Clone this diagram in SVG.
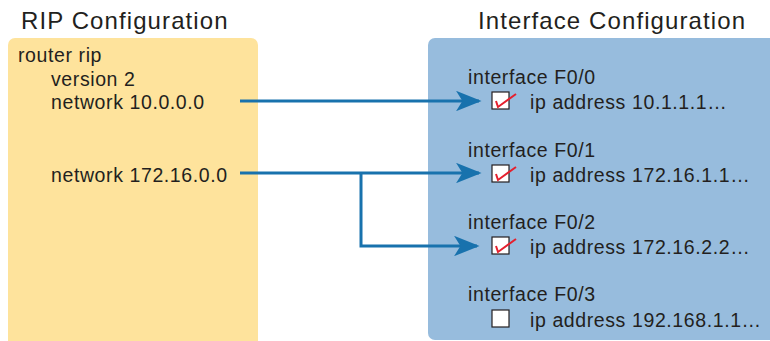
<svg xmlns="http://www.w3.org/2000/svg" width="770" height="341" viewBox="0 0 770 341">
<defs>
<style>
.t{font-family:"Liberation Sans",Arial,sans-serif;fill:#231f20}
.h{font-size:24px;letter-spacing:1.1px}
.s{font-size:19.5px;letter-spacing:0.6px}
.c{stroke:#1872ad;stroke-width:3;fill:none}
.cb{fill:#fff;stroke:#231f20;stroke-width:1.2}
.ck{stroke:#e5202e;stroke-width:2;fill:none}
</style>
<marker id="ah" viewBox="0 0 10 8" refX="9" refY="4" markerWidth="8.5" markerHeight="6.8" markerUnits="strokeWidth" orient="auto">
<path d="M0,0 L10,4 L0,8 L2.5,4 Z" fill="#1872ad"/>
</marker>
</defs>
<text class="t h" x="21" y="29">RIP Configuration</text>
<text class="t h" x="478" y="29">Interface Configuration</text>
<g id="rip">
<rect x="8" y="38" width="250" height="310" rx="7" fill="#fee39c"/>
<text class="t s" x="18" y="62">router rip</text>
<text class="t s" x="51" y="86">version 2</text>
<text class="t s" x="51" y="109">network 10.0.0.0</text>
<text class="t s" x="51" y="182">network 172.16.0.0</text>
</g>
<g id="iface">
<rect x="428" y="38" width="360" height="302" rx="7" fill="#97bcdd"/>
<text class="t s" x="468" y="84">interface F0/0</text>
<rect class="cb" x="492" y="92" width="17" height="17"/>
<path class="ck" d="M496,101 L498,107 L516,94"/>
<text class="t s" x="530" y="109">ip address 10.1.1.1…</text>
<text class="t s" x="468" y="157">interface F0/1</text>
<rect class="cb" x="492" y="165" width="17" height="17"/>
<path class="ck" d="M496,174 L498,180 L516,167"/>
<text class="t s" x="530" y="182">ip address 172.16.1.1…</text>
<text class="t s" x="468" y="229">interface F0/2</text>
<rect class="cb" x="492" y="237" width="17" height="17"/>
<path class="ck" d="M496,246 L498,252 L516,239"/>
<text class="t s" x="530" y="254">ip address 172.16.2.2…</text>
<text class="t s" x="468" y="301">interface F0/3</text>
<rect class="cb" x="492" y="310" width="17" height="17"/>
<text class="t s" x="530" y="327">ip address 192.168.1.1…</text>
</g>
<g id="connectors">
<line class="c" x1="240" y1="101" x2="479" y2="101" marker-end="url(#ah)"/>
<line class="c" x1="240" y1="173" x2="479" y2="173" marker-end="url(#ah)"/>
<polyline class="c" points="361,173 361,246 477,246" marker-end="url(#ah)"/>
</g>
</svg>
